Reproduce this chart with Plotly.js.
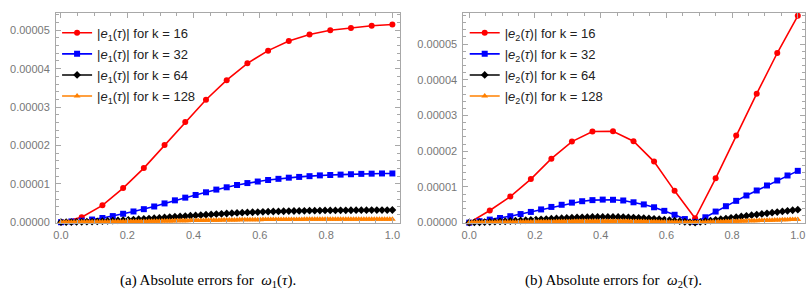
<!DOCTYPE html>
<html>
<head>
<meta charset="utf-8">
<script src="https://cdn.plot.ly/plotly-3.0.1.min.js"></script>
<style>html,body{margin:0;padding:0;background:#fff;}#chart{width:812px;height:297px;}</style>
</head>
<body>
<div id="chart"></div>
<script>
// values in units of 1e-6
const UNIT = 1e-6;
const kValues = [16, 32, 64, 128];
const seriesColors = ['#ff0000', '#0000ff', '#000000', '#ff8000'];
const seriesSymbols = ['circle', 'square', 'diamond', 'triangle-up'];

// (a) |e1(tau)|
const e1_k16 = [0, 1.3, 4.4, 8.9, 14.1, 20.1, 26.1, 31.9, 37.0, 41.4, 44.7, 47.2, 48.9, 50.0, 50.6, 51.2, 51.5];
const e1_k32 = [0,0.2,0.4,0.7,1.1,1.6,2.2,2.8,3.4,4.1,4.9,5.7,6.4,7.1,7.8,8.5,9.1,9.7,10.2,10.6,11.0,11.3,11.6,11.8,12.0,12.2,12.3,12.4,12.5,12.6,12.65,12.7,12.7];
const e1_k64 = [0,0.02,0.05,0.07,0.1,0.14,0.18,0.23,0.28,0.34,0.4,0.47,0.55,0.62,0.7,0.78,0.85,0.94,1.03,1.13,1.23,1.33,1.43,1.51,1.6,1.69,1.78,1.87,1.95,2.04,2.12,2.2,2.27,2.35,2.42,2.49,2.55,2.6,2.65,2.7,2.75,2.79,2.82,2.86,2.9,2.92,2.95,2.97,3.0,3.02,3.04,3.06,3.07,3.08,3.1,3.11,3.12,3.13,3.14,3.15,3.16,3.16,3.17,3.17,3.18];
const e1_k128 = [0,0,0.01,0.01,0.01,0.02,0.02,0.02,0.03,0.03,0.04,0.04,0.05,0.05,0.06,0.06,0.07,0.08,0.09,0.09,0.1,0.11,0.12,0.13,0.14,0.15,0.16,0.17,0.18,0.19,0.2,0.2,0.21,0.22,0.24,0.25,0.26,0.27,0.28,0.29,0.31,0.32,0.33,0.34,0.36,0.37,0.38,0.39,0.4,0.41,0.42,0.43,0.45,0.46,0.47,0.48,0.49,0.5,0.51,0.52,0.53,0.54,0.55,0.56,0.57,0.58,0.59,0.6,0.61,0.62,0.62,0.63,0.64,0.64,0.65,0.65,0.66,0.67,0.68,0.68,0.69,0.69,0.7,0.7,0.71,0.71,0.72,0.72,0.73,0.73,0.73,0.74,0.74,0.74,0.75,0.75,0.75,0.75,0.76,0.76,0.76,0.76,0.77,0.77,0.77,0.77,0.77,0.78,0.78,0.78,0.78,0.78,0.78,0.78,0.79,0.79,0.79,0.79,0.79,0.79,0.79,0.79,0.79,0.79,0.79,0.8,0.8,0.8,0.8];

// (b) |e2(tau)|
const e2_k16 = [0, 3.4, 7.3, 12.2, 17.9, 22.7, 25.5, 25.6, 22.8, 17.1, 8.9, 1.2, 12.4, 24.4, 36.1, 47.5, 57.9];
const e2_k32 = [0,0.4,0.85,1.3,1.8,2.4,3.0,3.7,4.4,5.0,5.6,6.0,6.3,6.45,6.4,6.2,5.7,5.1,4.3,3.3,2.2,1.0,0.2,1.5,3.1,4.6,6.1,7.6,9.0,10.4,11.8,13.2,14.5];
const e2_k64 = [0,0.05,0.1,0.16,0.21,0.27,0.33,0.39,0.45,0.52,0.6,0.67,0.75,0.84,0.93,1.01,1.1,1.17,1.25,1.33,1.4,1.45,1.5,1.54,1.58,1.6,1.61,1.61,1.6,1.58,1.55,1.5,1.43,1.36,1.28,1.18,1.08,0.96,0.83,0.69,0.55,0.4,0.25,0.13,0.03,0.2,0.38,0.58,0.78,0.96,1.15,1.34,1.53,1.72,1.9,2.08,2.25,2.43,2.6,2.78,2.95,3.13,3.3,3.47,3.63];
const e2_k128 = [0,0.01,0.01,0.02,0.03,0.03,0.04,0.05,0.05,0.06,0.07,0.08,0.08,0.09,0.1,0.11,0.11,0.12,0.13,0.14,0.15,0.16,0.17,0.18,0.19,0.2,0.21,0.22,0.23,0.24,0.25,0.26,0.28,0.28,0.29,0.3,0.31,0.32,0.33,0.34,0.35,0.36,0.36,0.37,0.38,0.38,0.39,0.39,0.4,0.4,0.4,0.4,0.4,0.4,0.4,0.4,0.4,0.4,0.39,0.38,0.38,0.37,0.36,0.35,0.34,0.33,0.32,0.31,0.3,0.28,0.27,0.26,0.24,0.22,0.21,0.19,0.17,0.16,0.14,0.12,0.1,0.08,0.06,0.05,0.03,0.02,0.01,0.01,0.01,0.03,0.05,0.07,0.1,0.12,0.15,0.17,0.2,0.22,0.24,0.26,0.29,0.31,0.34,0.36,0.38,0.41,0.43,0.45,0.48,0.5,0.52,0.54,0.56,0.59,0.61,0.63,0.65,0.67,0.7,0.72,0.74,0.76,0.78,0.81,0.83,0.85,0.87,0.89,0.91];

const panelA = [e1_k16, e1_k32, e1_k64, e1_k128];
const panelB = [e2_k16, e2_k32, e2_k64, e2_k128];

function tauGrid(vals) { const n = vals.length - 1; return vals.map((_, i) => i / n); }

const traces = [];
function addPanel(data, idx, xa, ya, legendId) {
  data.forEach((vals, s) => {
    traces.push({
      type: 'scatter', mode: 'lines+markers',
      x: tauGrid(vals), y: vals.map(v => v * UNIT),
      xaxis: xa, yaxis: ya, legend: legendId, legendgroup: legendId + '_' + s,
      name: '|<i>e</i><sub>' + idx + '</sub>(<i>τ</i>)| for k = ' + kValues[s],
      line: {color: seriesColors[s], width: 1.6},
      marker: {color: seriesColors[s], symbol: seriesSymbols[s], size: 6},
      cliponaxis: false
    });
  });
}
addPanel(panelA, 1, 'x', 'y', 'legend');
addPanel(panelB, 2, 'x2', 'y2', 'legend2');

const frame = '#a8a8a8';
const tickFont = {family: 'Liberation Sans, Arial, sans-serif', size: 11, color: '#777777'};
function xAxis(domain, range) {
  return {domain: domain, range: range, showline: true, mirror: 'ticks', linecolor: frame, linewidth: 1,
    ticks: 'inside', ticklen: 5, tickcolor: frame, dtick: 0.2, tick0: 0, tickformat: '.1f',
    minor: {ticks: 'inside', ticklen: 3, tickcolor: frame, dtick: 0.05},
    showgrid: false, zeroline: false, tickfont: tickFont, ticklabelstandoff: 2};
}
function yAxis(domain, range, anchor) {
  return {domain: domain, range: range, anchor: anchor, showline: true, mirror: 'ticks', linecolor: frame, linewidth: 1,
    ticks: 'inside', ticklen: 5, tickcolor: frame, dtick: 1e-5, tick0: 0, tickformat: '.5f',
    minor: {ticks: 'inside', ticklen: 3, tickcolor: frame, dtick: 0.2e-5},
    showgrid: false, zeroline: false, tickfont: tickFont, ticklabelstandoff: 3};
}
const yDom = [0.2492, 0.9562];
const legendFont = {family: 'Liberation Sans, Arial, sans-serif', size: 13, color: '#222222'};
const layout = {
  width: 812, height: 297, margin: {l: 0, r: 0, t: 0, b: 0},
  paper_bgcolor: '#ffffff', plot_bgcolor: '#ffffff', showlegend: true,
  xaxis: Object.assign(xAxis([0.0690, 0.4926], [-0.015, 1.023]), {anchor: 'y'}),
  yaxis: yAxis(yDom, [-0.02e-5, 5.45e-5], 'x'),
  xaxis2: Object.assign(xAxis([0.5706, 0.9918], [-0.018, 1.023]), {anchor: 'y2'}),
  yaxis2: yAxis(yDom, [-0.01e-5, 5.87e-5], 'x2'),
  legend: {x: 0.0703, y: 0.94, xanchor: 'left', yanchor: 'top', bgcolor: 'rgba(0,0,0,0)', font: legendFont, tracegroupgap: 1.2},
  legend2: {x: 0.5723, y: 0.94, xanchor: 'left', yanchor: 'top', bgcolor: 'rgba(0,0,0,0)', font: legendFont, tracegroupgap: 1.2},
  annotations: [
    {xref: 'paper', yref: 'paper', x: 0.256, y: 0.054, showarrow: false, xanchor: 'center', yanchor: 'middle',
     text: '(a) Absolute errors for  <i>ω</i><sub>1</sub>(<i>τ</i>).', font: {family: 'Liberation Serif, Times New Roman, serif', size: 15, color: '#000'}},
    {xref: 'paper', yref: 'paper', x: 0.756, y: 0.054, showarrow: false, xanchor: 'center', yanchor: 'middle',
     text: '(b) Absolute errors for  <i>ω</i><sub>2</sub>(<i>τ</i>).', font: {family: 'Liberation Serif, Times New Roman, serif', size: 15, color: '#000'}}
  ]
};
Plotly.newPlot('chart', traces, layout, {staticPlot: true, displayModeBar: false});
</script>
</body>
</html>
